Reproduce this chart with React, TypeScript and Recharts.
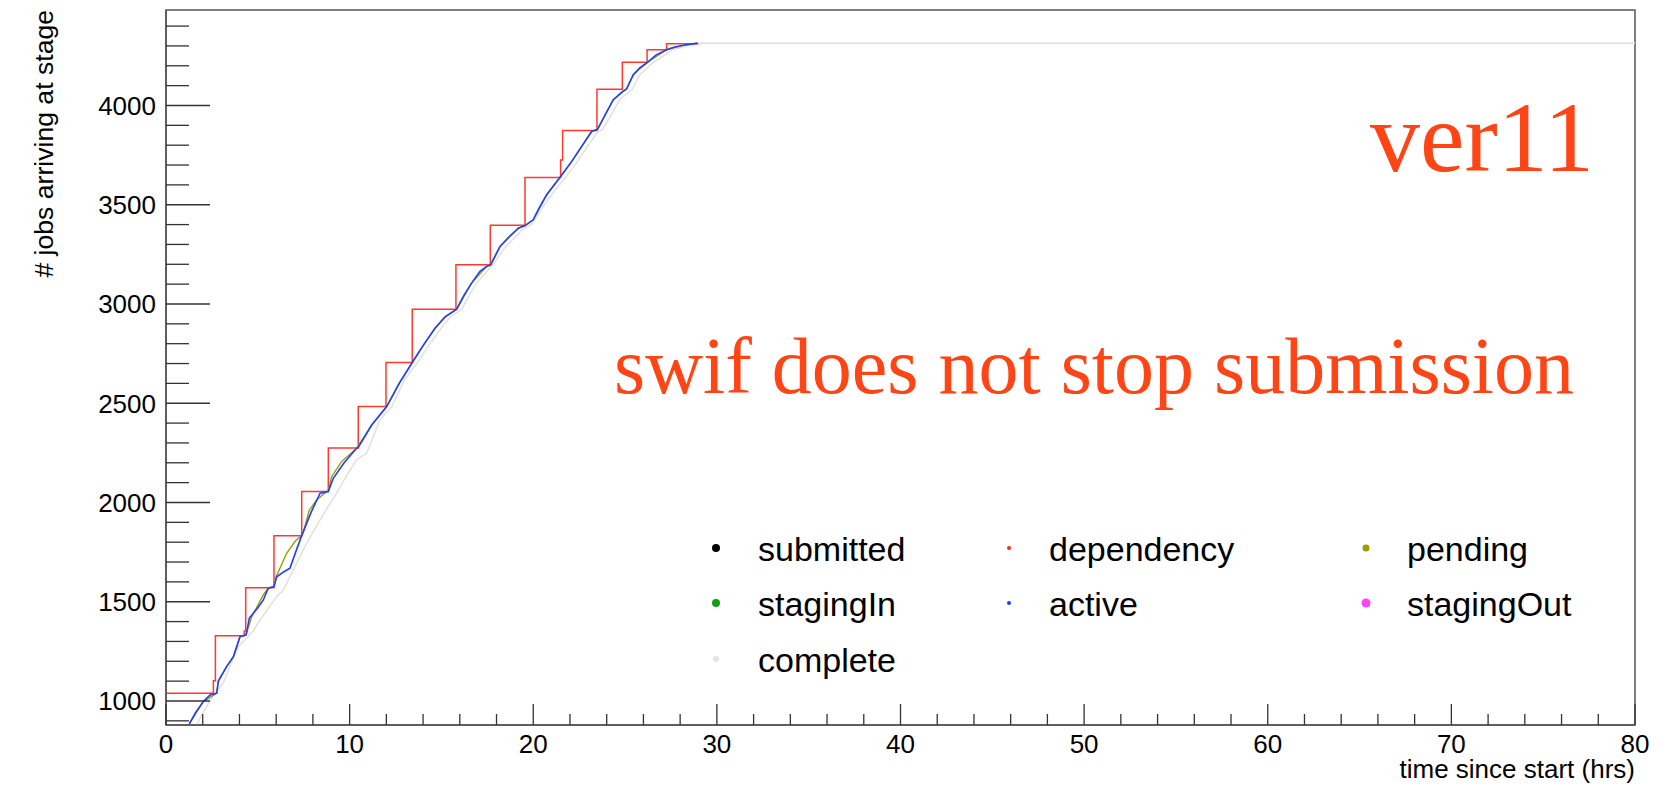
import { LineChart, Line, XAxis, YAxis, ReferenceArea } from "recharts";

// time (hrs) / cumulative jobs
const dependencyTime = [0, 2.58, 2.69, 4.26, 4.34, 5.88, 7.39, 8.84, 10.47, 11.98, 13.41, 15.79, 17.66, 19.55, 21.49, 21.6, 23.47, 24.85, 26.2, 27.26, 28.95];
const dependencyCount = [1039, 1102, 1329, 1353, 1571, 1833, 2055, 2275, 2483, 2705, 2974, 3198, 3396, 3637, 3725, 3874, 4082, 4218, 4281, 4311, 4314];

const activeTime = [1.27, 1.6, 2.03, 2.4, 2.76, 2.85, 3.3, 3.67, 4.03, 4.36, 4.54, 5.0, 5.3, 5.57, 5.88, 6.03, 6.4, 6.75, 7.1, 7.39, 7.9, 8.39, 8.84, 9.11, 9.7, 10.38, 10.47, 11.2, 12.02, 12.7, 13.41, 14.0, 14.65, 15.2, 15.83, 16.2, 16.64, 17.1, 17.46, 17.68, 18.19, 18.7, 19.19, 19.55, 20.0, 20.3, 20.73, 21.45, 22.09, 22.63, 23.18, 23.5, 23.9, 24.36, 24.85, 25.08, 25.45, 25.8, 26.17, 26.7, 27.26, 27.7, 28.17, 28.95];
const activeCount = [885, 940, 997, 1030, 1039, 1100, 1173, 1223, 1324, 1333, 1417, 1470, 1509, 1568, 1576, 1626, 1650, 1669, 1760, 1833, 1950, 2047, 2055, 2122, 2200, 2273, 2278, 2390, 2483, 2600, 2705, 2790, 2878, 2935, 2974, 3040, 3105, 3165, 3189, 3197, 3290, 3340, 3382, 3395, 3424, 3480, 3550, 3637, 3717, 3793, 3869, 3880, 3950, 4029, 4070, 4083, 4155, 4190, 4214, 4255, 4281, 4295, 4303, 4314];

const pendingTime = [1.27, 2.03, 2.76, 2.85, 3.3, 3.67, 4.03, 4.36, 4.67, 5.3, 5.57, 5.88, 6.0, 6.57, 7.02, 7.39, 7.48, 7.8, 8.2, 8.75, 8.84, 9.02, 9.56, 10.38, 11.2, 12.02, 12.7, 13.41, 14.0, 14.65, 15.2, 15.83, 16.64, 17.46, 17.68, 18.19, 19.19, 19.55, 20.0, 20.73, 21.45, 22.09, 22.63, 23.18, 23.5, 24.36, 25.08, 25.45, 26.17, 27.26, 28.17, 28.95];
const pendingCount = [885, 997, 1039, 1100, 1173, 1223, 1324, 1333, 1425, 1534, 1568, 1576, 1626, 1744, 1803, 1833, 1850, 1960, 2013, 2055, 2060, 2130, 2206, 2273, 2390, 2483, 2600, 2705, 2790, 2878, 2935, 2974, 3105, 3189, 3197, 3290, 3382, 3395, 3424, 3550, 3637, 3717, 3793, 3869, 3880, 4029, 4083, 4155, 4214, 4281, 4303, 4314];

const completeTime = [1.66, 1.94, 2.58, 3.12, 3.5, 3.94, 4.39, 4.8, 5.12, 5.6, 6.03, 6.4, 6.75, 7.2, 7.66, 8.39, 8.9, 9.29, 9.8, 10.38, 10.93, 11.65, 12.3, 13.0, 13.7, 14.3, 14.92, 15.5, 16.1, 16.9, 17.8, 18.5, 19.5, 19.9, 20.6, 21.0, 21.75, 22.4, 22.95, 23.5, 23.8, 24.7, 25.4, 25.8, 26.5, 27.6, 28.5, 29.2, 80];
const completeCount = [879, 929, 1030, 1089, 1180, 1274, 1316, 1360, 1408, 1470, 1526, 1560, 1626, 1710, 1795, 1912, 1990, 2047, 2130, 2215, 2248, 2416, 2483, 2620, 2705, 2790, 2870, 2935, 2974, 3105, 3197, 3290, 3382, 3400, 3500, 3550, 3637, 3717, 3793, 3865, 3880, 4029, 4083, 4155, 4214, 4281, 4303, 4314, 4314];

const xTicks = [0, 2, 4, 6, 8, 10, 12, 14, 16, 18, 20, 22, 24, 26, 28, 30, 32, 34, 36, 38, 40, 42, 44, 46, 48, 50, 52, 54, 56, 58, 60, 62, 64, 66, 68, 70, 72, 74, 76, 78, 80];
const yTicks = [900, 1000, 1100, 1200, 1300, 1400, 1500, 1600, 1700, 1800, 1900, 2000, 2100, 2200, 2300, 2400, 2500, 2600, 2700, 2800, 2900, 3000, 3100, 3200, 3300, 3400, 3500, 3600, 3700, 3800, 3900, 4000, 4100, 4200, 4300, 4400];

const legendNames = ["submitted", "dependency", "pending", "stagingIn", "active", "stagingOut", "complete"];
const legendColors = ["#000000", "#ff2a10", "#9c9c00", "#10a010", "#1a3cff", "#ff44ff", "#e4e4e4"];
const legendSizes = [4, 2, 3.5, 4, 2, 4.5, 3];

const pts = (ts: number[], vs: number[]) => ts.map((t, i) => ({ t, v: vs[i] }));

const FONT = "'Liberation Sans', Arial, Helvetica, sans-serif";
const SERIF = "'Liberation Serif', 'Times New Roman', serif";
const W = 1674;
const H = 789;

function YTick({ x, y, payload }: any) {
  const major = payload.value % 500 === 0;
  return (
    <g>
      <line x1={x + 10} x2={x + 10 + (major ? 44 : 23)} y1={y} y2={y} stroke="#333" strokeWidth={1.3} />
      {major && (
        <text x={x} y={y} dy="0.36em" textAnchor="end" fontFamily={FONT} fontSize={26} fill="#000">
          {payload.value}
        </text>
      )}
    </g>
  );
}

function XTick({ x, y, payload }: any) {
  const major = payload.value % 10 === 0;
  return (
    <g>
      <line x1={x} x2={x} y1={y - 8} y2={y - 8 - (major ? 21 : 11)} stroke="#333" strokeWidth={1.3} />
      {major && (
        <text x={x} y={y + 20} textAnchor="middle" fontFamily={FONT} fontSize={26} fill="#000">
          {payload.value}
        </text>
      )}
    </g>
  );
}

export default function App() {
  const markerX = [716, 1009, 1366];
  const textX = [758, 1049, 1407];
  const rowY = [548, 603, 659];
  return (
    <div style={{ position: "absolute", left: 0, top: 0, width: W, height: H, background: "#fff" }}>
      <LineChart width={W} height={H} margin={{ top: 10, right: 39, left: 0, bottom: 0 }}>
        <XAxis
          type="number"
          dataKey="t"
          domain={[0, 80]}
          ticks={xTicks}
          interval={0}
          allowDataOverflow
          height={64}
          tickSize={0}
          tickMargin={8}
          tick={<XTick />}
          axisLine={{ stroke: "#555", strokeWidth: 1.5 }}
        />
        <YAxis
          type="number"
          dataKey="v"
          domain={[879, 4481]}
          ticks={yTicks}
          interval={0}
          allowDataOverflow
          width={166}
          tickSize={0}
          tickMargin={10}
          tick={<YTick />}
          axisLine={{ stroke: "#555", strokeWidth: 1.5 }}
        />
        <ReferenceArea x1={0} x2={80} y1={879} y2={4481} fill="none" stroke="#555" strokeWidth={1.5} />
        <Line data={pts(completeTime, completeCount)} dataKey="v" type="linear" stroke="#e2e2e2" strokeWidth={1.6} dot={false} isAnimationActive={false} />
        <Line data={pts(dependencyTime, dependencyCount)} dataKey="v" type="stepAfter" stroke="#ff3b30" strokeWidth={1.5} dot={false} isAnimationActive={false} />
        <Line data={pts(pendingTime, pendingCount)} dataKey="v" type="linear" stroke="#9c9c00" strokeWidth={1.4} dot={false} isAnimationActive={false} />
        <Line data={pts(activeTime, activeCount)} dataKey="v" type="linear" stroke="#2040ff" strokeWidth={1.6} dot={false} isAnimationActive={false} />
      </LineChart>
      <svg width={W} height={H} style={{ position: "absolute", left: 0, top: 0, pointerEvents: "none" }}>
        <text x={53} y={10} transform="rotate(-90 53 10)" textAnchor="end" fontFamily={FONT} fontSize={26.6} fill="#000">
          # jobs arriving at stage
        </text>
        <text x={1635} y={778} textAnchor="end" fontFamily={FONT} fontSize={26} fill="#000">
          time since start (hrs)
        </text>
        <text x={1370} y={171} fontFamily={SERIF} fontSize={100} fill="#ff4516">ver11</text>
        <text x={614} y={393} fontFamily={SERIF} fontSize={80} fill="#ff4516">swif does not stop submission</text>
        {legendNames.map((name, i) => {
          const col = i % 3;
          const cy = rowY[Math.floor(i / 3)];
          return (
            <g key={name}>
              <circle cx={markerX[col]} cy={cy} r={legendSizes[i]} fill={legendColors[i]} />
              <text x={textX[col]} y={cy + 13} fontFamily={FONT} fontSize={34} fill="#000">{name}</text>
            </g>
          );
        })}
      </svg>
    </div>
  );
}
